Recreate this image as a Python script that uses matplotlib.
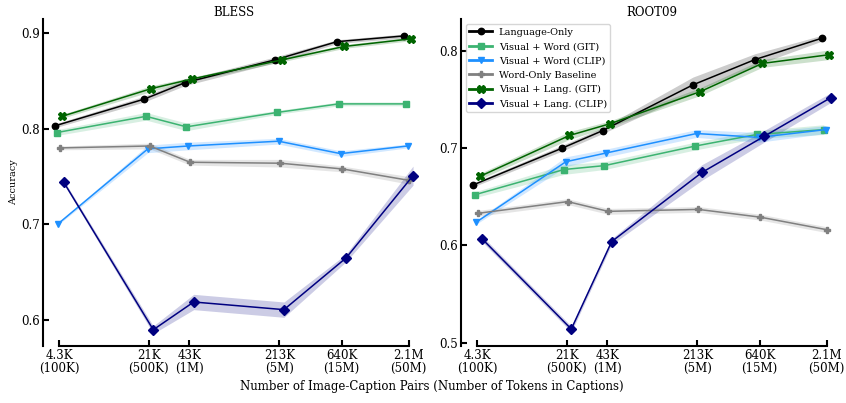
import numpy as np
import matplotlib.pyplot as plt

plt.rcParams['font.family'] = 'DejaVu Serif'

pairs = [4300, 21000, 43000, 213000, 640000, 2100000]
xtick_labels = ['4.3K\n(100K)', '21K\n(500K)', '43K\n(1M)', '213K\n(5M)', '640K\n(15M)', '2.1M\n(50M)']

names = ['Language-Only', 'Visual + Word (GIT)', 'Visual + Word (CLIP)',
         'Word-Only Baseline', 'Visual + Lang. (GIT)', 'Visual + Lang. (CLIP)']
colors = ['black', '#3cb371', '#1e90ff', 'gray', 'darkgreen', 'navy']
markers = ['o', 's', 'v', 'P', 'X', 'D']
msizes = [4.6, 4.5, 5, 5, 5.2, 5.2]

# BLESS
bless_lang = [0.803, 0.831, 0.848, 0.872, 0.891, 0.897]
bless_word_git = [0.796, 0.813, 0.802, 0.817, 0.826, 0.826]
bless_word_clip = [0.701, 0.779, 0.782, 0.787, 0.774, 0.782]
bless_word_only = [0.780, 0.782, 0.765, 0.764, 0.758, 0.746]
bless_vl_git = [0.813, 0.842, 0.852, 0.872, 0.886, 0.894]
bless_vl_clip = [0.744, 0.590, 0.619, 0.611, 0.665, 0.751]

bless_err = [
    [0.002, 0.003, 0.003, 0.003, 0.002, 0.002],
    [0.003, 0.004, 0.004, 0.002, 0.002, 0.002],
    [0.001, 0.004, 0.004, 0.003, 0.003, 0.002],
    [0.002, 0.003, 0.003, 0.004, 0.003, 0.004],
    [0.002, 0.003, 0.002, 0.002, 0.002, 0.002],
    [0.002, 0.004, 0.008, 0.008, 0.004, 0.010],
]

# ROOT09
root_lang = [0.662, 0.700, 0.718, 0.765, 0.791, 0.813]
root_word_git = [0.652, 0.678, 0.682, 0.702, 0.714, 0.719]
root_word_clip = [0.624, 0.686, 0.695, 0.715, 0.711, 0.719]
root_word_only = [0.633, 0.645, 0.635, 0.637, 0.629, 0.616]
root_vl_git = [0.671, 0.713, 0.725, 0.758, 0.787, 0.796]
root_vl_clip = [0.607, 0.514, 0.604, 0.675, 0.712, 0.752]

root_err = [
    [0.002, 0.003, 0.003, 0.008, 0.006, 0.003],
    [0.003, 0.005, 0.004, 0.004, 0.004, 0.005],
    [0.002, 0.005, 0.004, 0.004, 0.005, 0.004],
    [0.003, 0.003, 0.003, 0.003, 0.003, 0.003],
    [0.003, 0.004, 0.003, 0.004, 0.004, 0.005],
    [0.003, 0.003, 0.003, 0.008, 0.006, 0.005],
]

bless = [bless_lang, bless_word_git, bless_word_clip, bless_word_only, bless_vl_git, bless_vl_clip]
root = [root_lang, root_word_git, root_word_clip, root_word_only, root_vl_git, root_vl_clip]

fig = plt.figure(figsize=(8.46, 4.03), dpi=100)
ax1 = fig.add_axes([0.0505, 0.1414, 0.452, 0.8115])
ax2 = fig.add_axes([0.5446, 0.1414, 0.452, 0.8115])


def draw(ax, data, errs, title, ylim, yticks):
    x = np.array(pairs, dtype=float)
    for i, (vals, err) in enumerate(zip(data, errs)):
        # small dodge so markers don't sit on top of each other
        xs = x * 10 ** (0.0139 * (i - 2.5))
        vals = np.array(vals)
        err = np.array(err)
        ax.fill_between(xs, vals - err, vals + err, color=colors[i], alpha=0.2, lw=0)
        ax.plot(xs, vals, color=colors[i], marker=markers[i], ms=msizes[i], lw=1.1, label=names[i])
    ax.set_xscale('log')
    ax.set_xlim(3204, 2.1e6 * 1.342)
    ax.set_ylim(*ylim)
    ax.set_xticks(pairs)
    ax.set_xticklabels(xtick_labels, linespacing=1.0)
    ax.minorticks_off()
    ax.set_yticks(yticks)
    ax.set_yticklabels([f'{t:.1f}' for t in yticks])
    ax.set_title(title, fontsize=8.5, pad=2)
    for s in ['top', 'right']:
        ax.spines[s].set_visible(False)
    for s in ['left', 'bottom']:
        ax.spines[s].set_linewidth(1.5)
    ax.spines['bottom'].set_bounds(pairs[0], pairs[-1])
    ax.tick_params(axis='both', direction='in', labelsize=8.5, width=1.5, length=4.5, pad=2)


draw(ax1, bless, bless_err, 'BLESS', (0.573, 0.9147), [0.6, 0.7, 0.8, 0.9])
draw(ax2, root, root_err, 'ROOT09', (0.4966, 0.8327), [0.5, 0.6, 0.7, 0.8])

ax1.set_ylabel('Accuracy', fontsize=7, labelpad=2)

leg = ax2.legend(loc='upper left', fontsize=7, labelspacing=0.55, borderaxespad=0.55,
                 handlelength=2.3, handletextpad=0.7, borderpad=0.35)
for h in leg.legend_handles:
    h.set_linewidth(2)

fig.text(0.51, 0.04, 'Number of Image-Caption Pairs (Number of Tokens in Captions)',
         ha='center', va='center', fontsize=8.5)

fig.savefig('out.png', dpi=100)
